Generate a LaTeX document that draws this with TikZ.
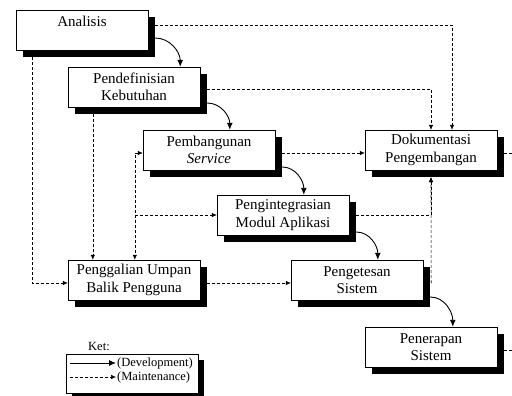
\documentclass[tikz,border=0pt]{standalone}
\usepackage{fontspec}
\setmainfont{Liberation Serif}
\usetikzlibrary{arrows.meta,shadows}
\tikzset{
    stage/.style={
            draw, fill=white, thin, align=center,
            minimum width=132pt, minimum height=40pt, inner sep=1pt,
            font=\fontsize{15}{17.5}\selectfont,
            drop shadow={fill=black, opacity=1, shadow xshift=7pt, shadow yshift=-7pt}
        },
    legend box/.style={
            draw, fill=white, thin,
            minimum width=132pt, minimum height=39pt,
            drop shadow={fill=black, opacity=1, shadow xshift=6pt, shadow yshift=-6pt}
        },
    legend text/.style={font=\fontsize{12.5}{14}\selectfont, inner sep=1pt},
    dev/.style={line width=0.9pt, >={Latex[length=7pt,width=6pt]}},
    maint/.style={line width=0.6pt, dash pattern=on 3pt off 2pt, >={Latex[length=5pt,width=4.5pt]}},
}

\begin{document}
\begin{tikzpicture}[x=1pt, y=-1pt]
        \useasboundingbox (0,0) rectangle (512,396);
        %draw stages
        \node[stage] (ana) at (82,30) {Analisis\\\mbox{}};
        \node[stage] (pend) at (134,87) {Pendefinisian\\Kebutuhan};
        \node[stage] (pemb) at (209,150) {Pembangunan\\\textit{Service}};
        \node[stage] (dok) at (431,150) {Dokumentasi\\Pengembangan};
        \node[stage] (peng) at (283,215) {Pengintegrasian\\Modul Aplikasi};
        \node[stage] (gali) at (134,280) {Penggalian Umpan\\Balik Pengguna};
        \node[stage] (tes) at (357,280) {Pengetesan\\Sistem};
        \node[stage] (trp) at (431,347) {Penerapan\\Sistem};
        %free ends and joints
        \coordinate (dokout) at (512,153);
        \coordinate (trpout) at (512,350);
        \coordinate (fb) at ([xshift=67pt]gali.north west);
        \coordinate (fork) at (fb |- peng.west);
        %draw development flow
        \draw[dev,->] ([xshift=7pt,yshift=-8pt]ana.east) to[out=0,in=90] ([xshift=-20pt]pend.north east);
        \draw[dev,->] ([xshift=7pt,yshift=-16pt]pend.east) to[out=0,in=90] ([xshift=87pt]pemb.north west);
        \draw[dev,->] ([xshift=7pt,yshift=-17pt]pemb.east) to[out=0,in=90] ([xshift=87pt]peng.north west);
        \draw[dev,->] ([xshift=7pt,yshift=-17pt]peng.east) to[out=0,in=90] ([xshift=87pt]tes.north west);
        \draw[dev,->] ([xshift=7pt,yshift=-17pt]tes.east) to[out=0,in=90] ([xshift=88pt]trp.north west);
        %draw maintenance flow
        \draw[maint,->] ([xshift=7pt,yshift=5pt]ana.east) -| ([xshift=21pt]dok.north);
        \draw[maint,->] ([xshift=7pt,yshift=-2pt]pend.east) -| (dok.north);
        \draw[maint,->] ([xshift=7pt,yshift=-3pt]pemb.east) -- ([yshift=-3pt]dok.west);
        \draw[maint] ([xshift=7pt,yshift=-3pt]dok.east) -- (dokout);
        \draw[maint] ([xshift=7pt,yshift=-3pt]trp.east) -- (trpout);
        \draw[maint,->] ([xshift=16pt,yshift=-7pt]ana.south west) |- ([yshift=-3pt]gali.west);
        \draw[maint,->] ([xshift=25pt,yshift=-7pt]pend.south west) -- ([xshift=25pt]gali.north west);
        \draw[maint,<->] ([yshift=-3pt]pemb.west) -| (fb);
        \draw[maint,->] (fork) -- (peng.west);
        \draw[maint,->] ([xshift=7pt,yshift=-3pt]gali.east) -- ([yshift=-3pt]tes.west);
        \draw[maint,->] ([xshift=7pt]peng.east) -| ([yshift=-7pt]dok.south);
        \draw[maint,->] ([xshift=8pt,yshift=-3pt]tes.east) -- ([yshift=-7pt]dok.south);
        %draw legend
        \node[legend text, anchor=west] (ket) at (87,346) {Ket:};
        \node[legend box] (lbox) at (132,373.5) {};
        \node[legend text, anchor=west] (ldev) at (116,363) {(Development)};
        \node[legend text, anchor=west] (lmaint) at (116,377) {(Maintenance)};
        \coordinate (ldevs) at (70,363);
        \coordinate (lmaints) at (70,377);
        \draw[dev,->] (ldevs) -- (ldev.west);
        \draw[maint,->] (lmaints) -- (lmaint.west);
\end{tikzpicture}
\end{document}
